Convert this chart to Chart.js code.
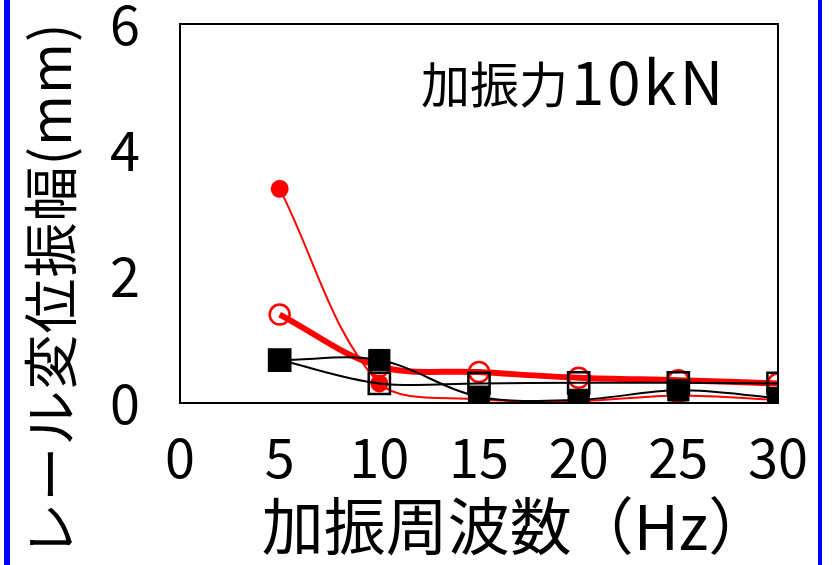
<!DOCTYPE html>
<html>
<head>
<meta charset="utf-8">
<script src="https://cdn.jsdelivr.net/npm/chart.js@4"></script>
<style>
  html, body { margin: 0; padding: 0; background: #fff; }
  canvas { display: block; }
</style>
</head>
<body>
<canvas id="myChart" width="832" height="565"></canvas>
<script>
'use strict';

// data
let freqs = [5, 10, 15, 20, 25, 30];
let redFilled = [3.39, 0.31, 0.06, 0.03, 0.12, 0.05];
let redOpen = [1.40, 0.58, 0.49, 0.40, 0.36, 0.31];
let blackFilled = [0.68, 0.68, 0.10, 0.05, 0.20, 0.08];
let blackOpen = [0.68, 0.31, 0.31, 0.32, 0.32, 0.31];

let xTicks = [0, 5, 10, 15, 20, 25, 30];
let yTicks = [0, 2, 4, 6];

let xTitle = '加振周波数（Hz）';
let yTitle = 'レール変位振幅(mm)';
let noteJa = '加振力';
let noteVal = '10kN';

const FONT = '"Noto Sans CJK JP", "Noto Sans", sans-serif';

function toPoints(values) {
  let pts = [];
  for (let i = 0; i < freqs.length; i++) {
    pts.push({ x: freqs[i], y: values[i] });
  }
  return pts;
}

// frame, titles, note, blue edges
let decorPlugin = {
  id: 'decor',
  afterDraw(chart) {
    let c = chart.ctx;
    let a = chart.chartArea;
    c.save();
    c.strokeStyle = '#000';
    c.lineWidth = 2;
    c.strokeRect(a.left, a.top, a.right - a.left, a.bottom - a.top);

    c.fillStyle = '#000';
    c.textAlign = 'left';
    c.textBaseline = 'alphabetic';
    c.font = '49px ' + FONT;
    c.fillText(noteJa, 421, 103);
    c.font = '60px ' + FONT;
    c.letterSpacing = '3px';
    c.fillText(noteVal, 571, 105);
    c.letterSpacing = '0px';

    c.font = '62px ' + FONT;
    c.textAlign = 'center';
    c.fillText(xTitle, 516, 550);

    c.translate(50, 290);
    c.rotate(-Math.PI / 2);
    c.font = '55px ' + FONT;
    c.textBaseline = 'middle';
    c.letterSpacing = '1px';
    c.fillText(yTitle, 0, 0);
    c.restore();

    c.save();
    c.fillStyle = '#0000ff';
    c.fillRect(4, 0, 6, 565);
    c.fillRect(818, 0, 4, 565);
    c.restore();
  }
};

let ctx = document.getElementById('myChart').getContext('2d');

new Chart(ctx, { //eslint-disable-line
  type: 'line',
  data: {
    datasets: [
      {
        data: toPoints(blackOpen),
        borderColor: '#000',
        borderWidth: 2,
        pointStyle: 'rect',
        pointRadius: 15,
        pointBorderWidth: 2.5,
        pointBackgroundColor: 'rgba(255,255,255,0)',
        pointBorderColor: '#000',
        tension: 0.35,
        order: 1
      },
      {
        data: toPoints(blackFilled),
        borderColor: '#000',
        borderWidth: 2,
        pointStyle: 'rect',
        pointRadius: 15,
        pointBorderWidth: 1,
        pointBackgroundColor: '#000',
        pointBorderColor: '#000',
        tension: 0.35,
        order: 2
      },
      {
        data: toPoints(redOpen),
        borderColor: '#ff0000',
        borderWidth: 6,
        pointStyle: 'circle',
        pointRadius: 10,
        pointBorderWidth: 2.5,
        pointBackgroundColor: 'rgba(255,255,255,0)',
        pointBorderColor: '#ff0000',
        tension: 0.35,
        order: 3
      },
      {
        data: toPoints(redFilled),
        borderColor: '#ff0000',
        borderWidth: 2,
        pointStyle: 'circle',
        pointRadius: 9,
        pointBorderWidth: 0,
        pointBackgroundColor: '#ff0000',
        tension: 0.35,
        order: 4
      }
    ]
  },
  options: {
    responsive: false,
    animation: false,
    devicePixelRatio: 1,
    layout: { padding: { left: 0, right: 54, top: 24, bottom: 0 } },
    plugins: {
      legend: { display: false },
      tooltip: { enabled: false }
    },
    scales: {
      x: {
        type: 'linear',
        min: 0,
        max: 30,
        afterFit(scale) {
          scale.height = 162;
          scale.paddingLeft = 0;
          scale.paddingRight = 0;
        },
        afterBuildTicks(scale) { scale.ticks = xTicks.map(v => ({ value: v })); },
        grid: { display: false, drawTicks: false },
        border: { display: false },
        ticks: { color: '#000', padding: 22, maxRotation: 0, font: { family: FONT, size: 54 } }
      },
      y: {
        min: 0,
        max: 6,
        afterFit(scale) {
          scale.width = 180;
          scale.paddingTop = 0;
          scale.paddingBottom = 0;
        },
        afterBuildTicks(scale) { scale.ticks = yTicks.map(v => ({ value: v })); },
        grid: { display: false, drawTicks: false },
        border: { display: false },
        ticks: { color: '#000', padding: 40, font: { family: FONT, size: 54 } }
      }
    }
  },
  plugins: [decorPlugin]
});
</script>
</body>
</html>
